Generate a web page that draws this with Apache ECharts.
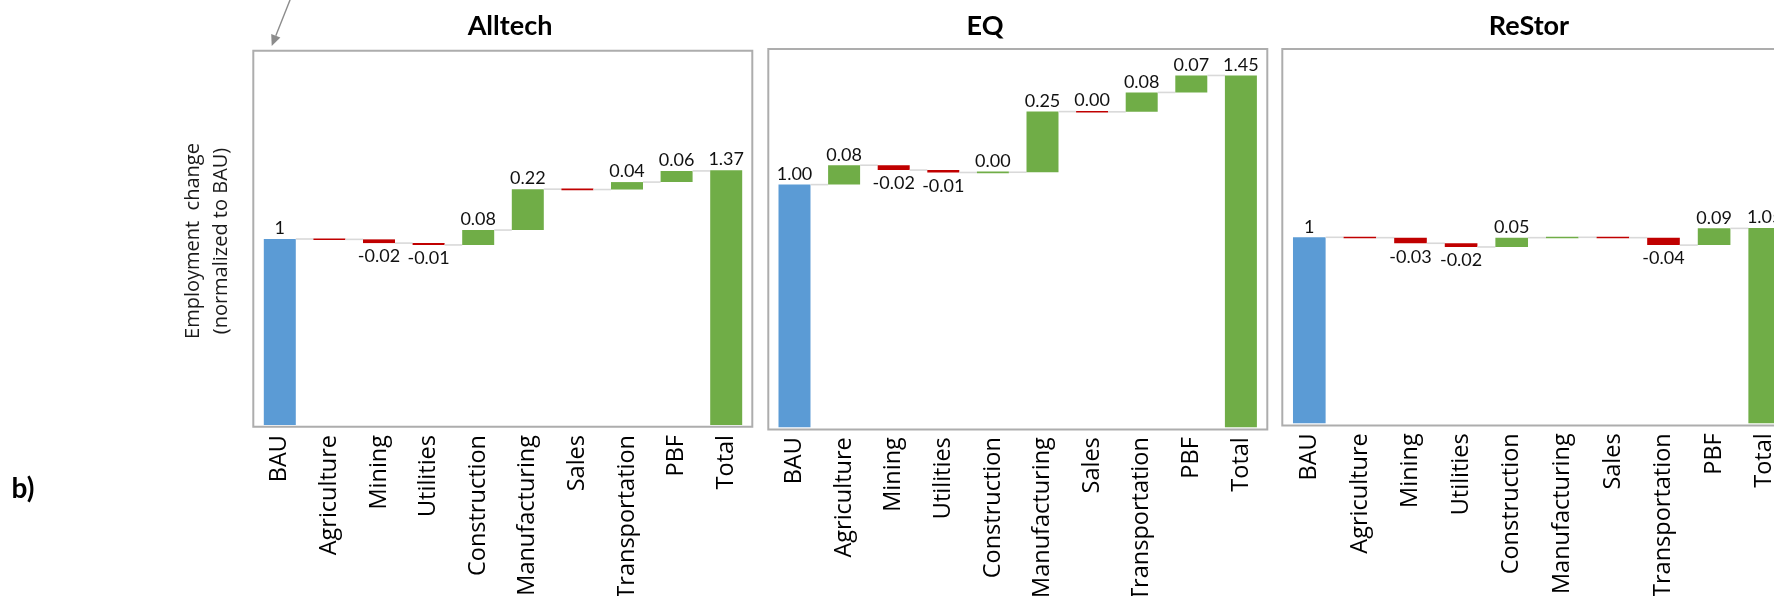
<!DOCTYPE html>
<html>
<head>
<meta charset="utf-8">
<script src="https://cdn.jsdelivr.net/npm/echarts@6/dist/echarts.min.js"></script>
<style>
  html, body { margin: 0; padding: 0; background: #ffffff; }
  #chart { width: 1774px; height: 596px; }
</style>
</head>
<body>
<div id="chart"></div>
<script>
// Sector contributions to employment, normalized to the BAU scenario
const categories = ['BAU', 'Agriculture', 'Mining', 'Utilities', 'Construction',
  'Manufacturing', 'Sales', 'Transportation', 'PBF', 'Total'];

const scenarioTitles = ['Alltech', 'EQ', 'ReStor'];

const alltechValues = [1, -0.002, -0.02, -0.01, 0.08, 0.22, -0.002, 0.04, 0.06, 1.37];
const alltechLabels = ['1', '', '-0.02', '-0.01', '0.08', '0.22', '', '0.04', '0.06', '1.37'];

const eqValues = [1.00, 0.08, -0.02, -0.01, 0.001, 0.25, -0.001, 0.08, 0.07, 1.45];
const eqLabels = ['1.00', '0.08', '-0.02', '-0.01', '0.00', '0.25', '0.00', '0.08', '0.07', '1.45'];

const restorValues = [1, -0.002, -0.03, -0.02, 0.05, 0.002, -0.002, -0.04, 0.09, 1.05];
const restorLabels = ['1', '', '-0.03', '-0.02', '0.05', '', '', '-0.04', '0.09', '1.05'];

const yAxisTitle = 'Employment  change\n(normalized to BAU)';
const panelTag = 'b)';

// Colours
const C_BASE = '#5B9BD5';
const C_UP = '#70AD47';
const C_DOWN = '#C00000';
const C_CONNECT = '#D9D9D9';
const C_FRAME = '#ADADAD';

const SANS = '"Open Sans", "Noto Sans", sans-serif';
const BAR_RATIO = 0.645;   // bar width as share of the category band
const MIN_BAR_H = 1.6;     // tiny changes still show as a hairline

// Panel layout (pixels)
const panels = [
  { title: scenarioTitles[0], values: alltechValues, labels: alltechLabels,
    grid: { left: 255, top: 53, width: 496, height: 372 }, yMax: 2,
    frame: [253.3, 50.7, 499, 376], titleX: 510 },
  { title: scenarioTitles[1], values: eqValues, labels: eqLabels,
    grid: { left: 769.7, top: 51.2, width: 496, height: 376 }, yMax: 1.55,
    frame: [768.3, 49, 499, 380.5], titleX: 985 },
  { title: scenarioTitles[2], values: restorValues, labels: restorLabels,
    grid: { left: 1284, top: 51.3, width: 506, height: 372 }, yMax: 2,
    frame: [1282.3, 49, 510, 376.5], titleX: 1529 }
];

// Convert a value list into [index, start, end] waterfall steps
function buildSteps(values) {
  const steps = [];
  let level = 0;
  const last = values.length - 1;
  values.forEach(function (v, i) {
    if (i === 0) { steps.push([i, 0, v]); level = v; }
    else if (i === last) { steps.push([i, 0, v]); }
    else { steps.push([i, level, level + v]); level += v; }
  });
  return steps;
}

function barColor(values, i) {
  if (i === 0) return C_BASE;
  if (i === values.length - 1) return C_UP;
  return values[i] >= 0 ? C_UP : C_DOWN;
}

function makeRenderer(panel) {
  const n = panel.values.length;
  return function (params, api) {
    const i = api.value(0);
    const s = api.value(1);
    const e = api.value(2);
    const band = api.size([1, 0])[0];
    const w = band * BAR_RATIO;
    const ps = api.coord([i, s]);
    const pe = api.coord([i, e]);
    const cx = ps[0];
    let top = Math.min(ps[1], pe[1]);
    let bot = Math.max(ps[1], pe[1]);
    if (bot - top < MIN_BAR_H) {
      const m = (top + bot) / 2;
      top = m - MIN_BAR_H / 2;
      bot = m + MIN_BAR_H / 2;
    }
    const children = [{
      type: 'rect',
      shape: { x: cx - w / 2, y: top, width: w, height: bot - top },
      style: { fill: barColor(panel.values, i) }
    }];
    if (i < n - 1) {
      const y = pe[1];
      children.push({
        type: 'line',
        shape: { x1: cx + w / 2, y1: y, x2: cx + band - w / 2, y2: y },
        style: { stroke: C_CONNECT, lineWidth: 1.6 }
      });
    }
    const txt = panel.labels[params.dataIndex];
    if (txt) {
      // negative figures hang below their bar, the rest sit on top
      const below = txt.charAt(0) === '-';
      children.push({
        type: 'text',
        x: cx,
        y: below ? bot + 13.5 : top - 10.5,
        style: {
          text: txt,
          fill: '#111111',
          font: '18px Lato, sans-serif',
          align: 'center',
          verticalAlign: 'middle'
        }
      });
    }
    return { type: 'group', children: children };
  };
}

const grids = [], xAxes = [], yAxes = [], series = [], graphics = [];

panels.forEach(function (p, k) {
  grids.push(Object.assign({ outerBoundsMode: 'none', containLabel: false }, p.grid));
  xAxes.push({
    type: 'category', gridIndex: k, data: categories,
    axisLine: { show: false }, axisTick: { show: false },
    axisLabel: {
      rotate: 90, interval: 0, margin: 10,
      fontFamily: SANS, fontSize: 23.5, color: '#000000'
    }
  });
  yAxes.push({
    type: 'value', gridIndex: k, min: 0, max: p.yMax, show: false,
    splitLine: { show: false }
  });
  series.push({
    type: 'custom', xAxisIndex: k, yAxisIndex: k,
    renderItem: makeRenderer(p),
    encode: { x: 0, y: [1, 2] },
    data: buildSteps(p.values),
    clip: false
  });
  graphics.push({
    type: 'rect', z: 0,
    shape: { x: p.frame[0], y: p.frame[1], width: p.frame[2], height: p.frame[3] },
    style: { fill: 'none', stroke: C_FRAME, lineWidth: 2 }
  });
  graphics.push({
    type: 'text', x: p.titleX, y: 26,
    style: {
      text: p.title, font: 'bold 27px Lato, sans-serif', fill: '#000000',
      align: 'center', verticalAlign: 'middle'
    }
  });
});

// Shared y-axis title
graphics.push({
  type: 'text', x: 207.5, y: 241, rotation: Math.PI / 2,
  style: {
    text: yAxisTitle, font: '20px ' + SANS, fill: '#1a1a1a',
    align: 'center', verticalAlign: 'middle', lineHeight: 28
  }
});

// Panel tag
graphics.push({
  type: 'text', x: 23, y: 489,
  style: {
    text: panelTag, font: 'bold 28px Lato, sans-serif', fill: '#000000',
    align: 'center', verticalAlign: 'middle'
  }
});

// Pointer arrow at the top-left corner of the first panel
graphics.push({
  type: 'line',
  shape: { x1: 292, y1: -5, x2: 275.8, y2: 35.8 },
  style: { stroke: '#8C8C8C', lineWidth: 1.4 }
});
graphics.push({
  type: 'polygon',
  shape: { points: [[271.7, 46], [280.4, 37.6], [271.2, 33.9]] },
  style: { fill: '#8C8C8C' }
});

const chart = echarts.init(document.getElementById('chart'), null, { renderer: 'canvas' });
chart.setOption({
  backgroundColor: '#ffffff',
  animation: false,
  grid: grids,
  xAxis: xAxes,
  yAxis: yAxes,
  series: series,
  graphic: graphics
});
</script>
</body>
</html>
